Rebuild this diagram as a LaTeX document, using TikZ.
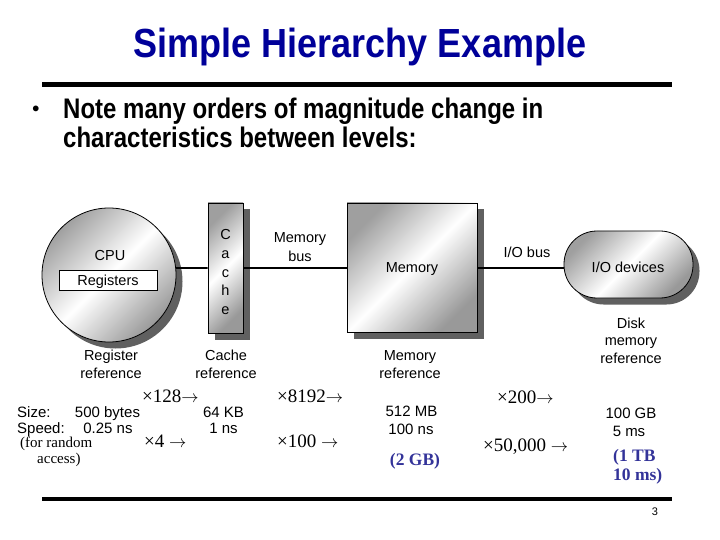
\documentclass[tikz,border=0pt]{standalone}
\usepackage{graphicx}
\usepackage{fontspec}
\setmainfont{Liberation Sans}
\newfontfamily\tnr{Liberation Serif}
\usetikzlibrary{shadows}
\definecolor{titleblue}{RGB}{0,0,153}
\definecolor{noteblue}{RGB}{51,51,153}
\begin{document}
\begin{tikzpicture}[x=1pt,y=-1pt,
  box/.style={draw=black, line width=0.8pt, shading=axis, top color=gray!75, bottom color=gray!80, middle color=white, shading angle=45,
    drop shadow={shadow xshift=6.5pt, shadow yshift=-6.5pt, fill=gray!75!black, opacity=1}},
  bus/.style={line width=1.8pt},
  lbl/.style={inner sep=0pt, font=\fontsize{14.5}{17}\selectfont},
  num/.style={inner sep=0pt, font=\fontsize{15}{18}\selectfont},
  tms/.style={inner sep=0pt, font=\tnr\fontsize{19}{22}\selectfont},
  blu/.style={inner sep=0pt, font=\tnr\bfseries\fontsize{17.5}{21}\selectfont, text=noteblue},
  bul/.style={inner sep=0pt, font=\bfseries\fontsize{24}{28}\selectfont},
  rule/.style={line width=5pt}]
\useasboundingbox (0,0) rectangle (720,540);
% title
\node[inner sep=0pt, anchor=base, font=\bfseries\fontsize{36}{40}\selectfont, text=titleblue] (title) at (360,57.5) {\scalebox{1}[1.13]{Simple Hierarchy Example}};
\coordinate (r1a) at (42,84.5); \coordinate (r1b) at (672,84.5);
\draw[rule] (r1a) -- (r1b);
% bullet
\node[inner sep=0pt, anchor=base, font=\bfseries\fontsize{20}{24}\selectfont] (bul) at (36,115.5) {•};
\node[bul, anchor=base west] (l1) at (63,118.5) {\scalebox{1}[1.18]{Note many orders of magnitude change in}};
\node[bul, anchor=base west] (l2) at (63,147.5) {\scalebox{1}[1.18]{characteristics between levels:}};
% components
\node[box, circle, minimum size=134pt, inner sep=0pt] (cpu) at (109,275) {};
\node[box, rectangle, minimum width=35pt, minimum height=130pt, inner sep=0pt] (cache) at (225.5,268) {};
\node[box, rectangle, minimum width=130pt, minimum height=129pt, inner sep=0pt] (mem) at (412,267.5) {};
\node[box, rectangle, rounded corners=33pt, minimum width=129pt, minimum height=67pt, inner sep=0pt] (io) at (628.5,264.5) {};
\node[draw=black, line width=0.8pt, fill=white, minimum width=98pt, minimum height=20pt, inner sep=0pt] (regs) at (108,280) {};
\node[lbl, anchor=base] (regt) at (108,285) {Registers};
\node[lbl, anchor=base] (cput) at (110,260) {CPU};
\node[lbl, anchor=base] (c1) at (225.5,240) {C};
\node[lbl, anchor=base] (c2) at (225.5,258.5) {a};
\node[lbl, anchor=base] (c3) at (225.5,277) {c};
\node[lbl, anchor=base] (c4) at (225.5,295.5) {h};
\node[lbl, anchor=base] (c5) at (225.5,314) {e};
\node[lbl, anchor=base] (memt) at (412,272) {Memory};
\node[lbl, anchor=base] (iot) at (628,272) {I/O devices};
% buses
\draw[bus] (cpu.6) -- (cache.west);
\draw[bus] (cache.east) -- (cache.east -| mem.west);
\draw[bus] (mem.east |- cache.east) -- (cache.east -| io.west);
\node[lbl, anchor=base] (mb1) at (300,243) {Memory};
\node[lbl, anchor=base] (mb2) at (300,261) {bus};
\node[lbl, anchor=base] (iob) at (527,257) {I/O bus};
% reference labels
\node[lbl, anchor=base] (rr1) at (111,360) {Register};
\node[lbl, anchor=base] (rr2) at (111,378) {reference};
\node[lbl, anchor=base] (cr1) at (226,360) {Cache};
\node[lbl, anchor=base] (cr2) at (226,378) {reference};
\node[lbl, anchor=base] (mr1) at (410,360) {Memory};
\node[lbl, anchor=base] (mr2) at (410,378) {reference};
\node[lbl, anchor=base] (dr1) at (631,328) {Disk};
\node[lbl, anchor=base] (dr2) at (631,345.5) {memory};
\node[lbl, anchor=base] (dr3) at (631,363) {reference};
% numbers
\node[num, anchor=base west] (sz) at (17,417) {Size:};
\node[num, anchor=base west] (sp) at (17,433) {Speed:};
\node[num, anchor=base] (s1) at (107.5,417) {500 bytes};
\node[num, anchor=base] (t1) at (108,433) {0.25 ns};
\node[inner sep=0pt, anchor=base west, font=\tnr\fontsize{15}{18}\selectfont] (fr1) at (20,447) {(for random};
\node[inner sep=0pt, anchor=base west, font=\tnr\fontsize{15}{18}\selectfont] (fr2) at (37,463) {access)};
\node[num, anchor=base] (s2) at (223.5,417) {64 KB};
\node[num, anchor=base] (t2) at (223.5,433) {1 ns};
\node[num, anchor=base] (s3) at (411.5,416) {512 MB};
\node[num, anchor=base] (t3) at (411,434) {100 ns};
\node[num, anchor=base] (s4) at (631,418) {100 GB};
\node[num, anchor=base] (t4) at (629,436) {5 ms};
\node[blu, anchor=base] (b3) at (415,465) {(2 GB)};
\node[blu, anchor=base west] (b4a) at (613,461) {(1 TB};
\node[blu, anchor=base west] (b4b) at (613,480) {10 ms)};
\node[tms, anchor=base west] (x1) at (142,402) {×128$\rightarrow$};
\node[tms, anchor=base west] (x2) at (144,447) {×4 $\rightarrow$};
\node[tms, anchor=base west] (x3) at (277,402) {×8192$\rightarrow$};
\node[tms, anchor=base west] (x4) at (277,447) {×100 $\rightarrow$};
\node[tms, anchor=base west] (x5) at (497,403) {×200$\rightarrow$};
\node[tms, anchor=base west] (x6) at (483,451) {×50,000 $\rightarrow$};
% bottom rule and page number
\coordinate (r2a) at (42,499); \coordinate (r2b) at (672,499);
\draw[line width=4.5pt] (r2a) -- (r2b);
\node[inner sep=0pt, anchor=base, font=\fontsize{11}{13}\selectfont] (pg) at (655,515) {3};
\end{tikzpicture}
\end{document}
